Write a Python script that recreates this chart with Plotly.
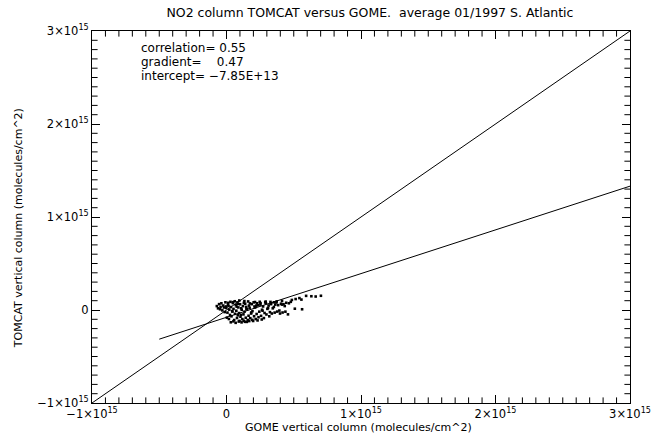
import numpy as np
import plotly.graph_objects as go

# GOME vs TOMCAT NO2 columns, in units of 1e14 molecules/cm^2
gome_1e14 = [
    -0.72, -0.63, -0.55, -0.48, -0.44, -0.38, -0.31, -0.24, -0.19, -0.13, -0.08, -0.03,
    0.03, 0.07, -0.02, 0.11,
    0.18, 0.26, 0.21, 0.15, 0.29,
    0.37, 0.44, 0.33, 0.48,
    0.57, 0.63, 0.52, 0.69, 0.61,
    0.78, 0.84, 0.73, 0.88, 0.81,
    0.97, 1.04, 0.93, 1.09, 1.01, 0.95,
    1.18, 1.26, 1.13, 1.22, 1.29,
    1.37, 1.43, 1.34, 1.46, 1.39,
    1.58, 1.64, 1.53, 1.67, 1.61,
    1.77, 1.84, 1.72, 1.88,
    1.98, 2.05, 1.93, 2.08, 2.02,
    2.17, 2.24, 2.13, 2.27,
    2.38, 2.44, 2.33, 2.47,
    2.57, 2.64, 2.52,
    2.78, 2.83, 2.72, 2.88,
    2.97, 3.04, 2.93,
    3.18, 3.23, 3.13, 3.27,
    3.37, 3.44, 3.33,
    3.58, 3.63, 3.53,
    3.77, 3.84, 3.73,
    3.98, 4.05,
    4.17, 4.24, 4.13,
    4.38, 4.44,
    4.57, 4.64,
    4.78, 4.86,
    5.08, 5.14,
    5.42,
    5.62, 5.57,
    5.92, 6.31, 6.63, 7.02,
    0.32, 0.51, 0.68, 0.91, 1.12, 1.28, 1.51, 1.69, 1.92, 2.31, 2.62,
    0.12, 0.47, 0.86, 1.33, 1.74, 2.12, 2.53, 2.91, 3.29, 3.71, 4.12,
    0.42, 0.76, 1.07, 1.48, 1.83, 2.21, 2.68, 3.09, 3.52, 3.93, 4.33,
]
tomcat_1e14 = [
    0.42, 0.18, 0.63, 0.08, 0.33, 0.72, -0.04, 0.48, 0.27, -0.22, 0.83, 0.38,
    -0.82, -0.28, 0.22, 0.57,
    -0.97, -0.53, 0.04, 0.43, 0.88,
    -0.68, -0.17, 0.32, 0.74,
    -1.08, -0.41, 0.12, 0.53, 0.94,
    -0.86, -0.57, -0.08, 0.28, 0.82,
    -1.17, -0.72, -0.33, 0.18, 0.62, 1.02,
    -0.98, -0.47, 0.03, 0.42, 0.77,
    -1.27, -0.83, -0.18, 0.33, 0.68,
    -1.07, -0.62, 0.08, 0.47, 0.92,
    -0.88, -0.27, 0.23, 0.63,
    -1.18, -0.67, -0.12, 0.38, 0.83,
    -0.97, -0.43, 0.27, 0.72,
    -0.78, -0.18, 0.52, 0.88,
    -0.63, 0.03, 0.58,
    -0.87, -0.32, 0.38, 0.82,
    -0.48, 0.12, 0.73,
    -0.68, -0.23, 0.48, 0.87,
    -0.38, 0.18, 0.72,
    -0.28, 0.58, 0.83,
    -0.17, 0.52, 0.92,
    -0.38, 0.68,
    -0.27, 0.62, 0.98,
    -0.18, 0.78,
    -0.47, 0.72,
    0.88, 1.08,
    0.14, 1.18,
    1.28,
    0.08, 1.12,
    1.52, 1.48, 1.45, 1.53,
    -1.32, -1.22, -1.38, -1.24, -1.33, -1.16, -1.28, -1.19, -1.06, -1.12, -1.02,
    0.77, 0.84, 0.66, 0.96, 0.71, 0.86, 0.74, 0.91, 0.63, 0.81, 0.58,
    -0.12, 0.36, -0.52, 0.13, -0.38, 0.47, -0.08, 0.22, 0.33, -0.06, 0.42,
]

correlation = 0.55
gradient = 0.47
intercept = -7.85e13
fit_x = [-5e14, 3e15]
one_to_one = [-1e15, 3e15]
axis_range = [-1e15, 3e15]
major_step = 1e15
minor_step = 1e14

gx = np.array(gome_1e14) * 1e14
ty = np.array(tomcat_1e14) * 1e14
fx = np.array(fit_x)
fy = gradient * fx + intercept

FONT = "DejaVu Sans"
PLOT_W, PLOT_H = 547, 372

fig = go.Figure()
fig.add_trace(go.Scatter(x=one_to_one, y=one_to_one, mode="lines",
                         line=dict(color="black", width=1), showlegend=False))
fig.add_trace(go.Scatter(x=fx, y=fy, mode="lines",
                         line=dict(color="black", width=1), showlegend=False))
fig.add_trace(go.Scatter(x=gx, y=ty, mode="markers",
                         marker=dict(symbol="square", size=2.6, color="black",
                                     line=dict(width=0)),
                         showlegend=False))

# minor ticks as clipped line markers on the four frame edges (half of each marker
# falls outside the plot area and is clipped, leaving an inward tick)
n_minor = int(round((axis_range[1] - axis_range[0]) / minor_step))
minor_vals = [axis_range[0] + k * minor_step for k in range(1, n_minor) if k % 10 != 0]
lo = [axis_range[0]] * len(minor_vals)
hi = [axis_range[1]] * len(minor_vals)
tick_marker_v = dict(symbol="line-ns", size=8, color="black", line=dict(color="black", width=1))
tick_marker_h = dict(symbol="line-ew", size=8, color="black", line=dict(color="black", width=1))
for xs, ys, mk in [(minor_vals, lo, tick_marker_v), (minor_vals, hi, tick_marker_v),
                   (lo, minor_vals, tick_marker_h), (hi, minor_vals, tick_marker_h)]:
    fig.add_trace(go.Scatter(x=xs, y=ys, mode="markers", marker=mk,
                             cliponaxis=True, hoverinfo="skip", showlegend=False))

major = dict(
    range=axis_range,
    tickmode="linear", tick0=axis_range[0], dtick=major_step,
    exponentformat="power", showexponent="all",
    ticks="inside", ticklen=8, tickwidth=1, tickcolor="black",
    showline=True, linecolor="black", linewidth=1, mirror="ticks",
    showgrid=False, zeroline=False,
    tickfont=dict(family=FONT, size=11.5, color="black"),
)
fig.update_layout(xaxis=major, yaxis=major)

fig.update_layout(
    width=663, height=436,
    margin=dict(l=92, r=24, t=31, b=33),
    paper_bgcolor="white", plot_bgcolor="white",
    font=dict(family=FONT, color="black"),
    title=dict(text="NO2 column TOMCAT versus GOME.  average 01/1997 S. Atlantic",
               x=0.558, xanchor="center", y=0.972, yanchor="middle",
               font=dict(family=FONT, size=12.5, color="black")),
)

stats_lines = ["correlation= %.2f" % correlation,
               "gradient=&nbsp;&nbsp;&nbsp;&nbsp;%.2f" % gradient,
               "intercept= \u2212%.2E" % abs(intercept)]
for i, s in enumerate(stats_lines):
    fig.add_annotation(text=s,
                       xref="paper", yref="paper", x=(140 - 92) / PLOT_W,
                       y=1 - (17 + 14 * i) / PLOT_H, xanchor="left", yanchor="middle",
                       showarrow=False,
                       font=dict(family=FONT, size=12, color="black"))

fig.add_annotation(text="GOME vertical column (molecules/cm^2)",
                   xref="paper", yref="paper", x=0.495, y=0, yshift=-24,
                   xanchor="center", yanchor="middle", showarrow=False,
                   font=dict(family=FONT, size=11, color="black"))
fig.add_annotation(text="TOMCAT vertical column (molecules/cm^2)",
                   xref="paper", yref="paper", x=0, xshift=-74, y=0.47,
                   xanchor="center", yanchor="middle", textangle=-90, showarrow=False,
                   font=dict(family=FONT, size=11, color="black"))

fig.write_html("out.html")
